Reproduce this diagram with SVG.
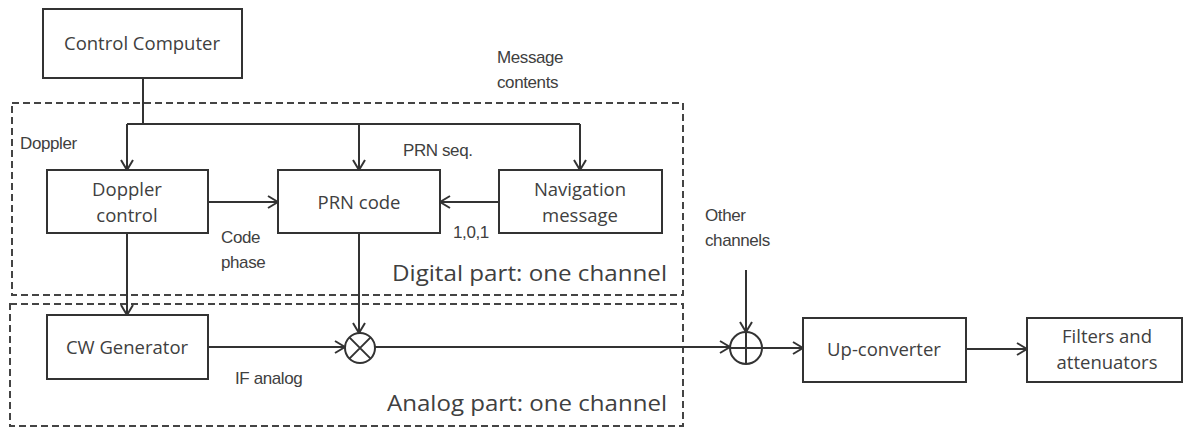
<svg xmlns="http://www.w3.org/2000/svg" width="1184" height="428" viewBox="0 0 1184 428">
<style>
.box{fill:#fff;stroke:#333;stroke-width:2}
.dash{fill:none;stroke:#444;stroke-width:2;stroke-dasharray:7,4}
.ln{fill:none;stroke:#333;stroke-width:2}
.bl{font-family:"Open Sans",sans-serif;font-size:18.5px;fill:#404040;text-anchor:middle}
.sm{font-family:"Liberation Sans",Arial,sans-serif;font-size:17px;fill:#404040;letter-spacing:-0.4px}
.big{font-family:"Open Sans",sans-serif;font-size:22px;fill:#404040}
</style>
<defs>
<marker id="ah" markerUnits="userSpaceOnUse" markerWidth="12" markerHeight="14" viewBox="0 0 12 14" refX="11" refY="7" orient="auto">
<path d="M1,1 L11,7 L1,13" fill="none" stroke="#333" stroke-width="2"/>
</marker>
</defs>
<g id="digital-part">
<rect class="dash" x="12" y="103" width="671" height="192"/>
<text class="big" x="392" y="281" textLength="275" lengthAdjust="spacingAndGlyphs">Digital part: one channel</text>
</g>
<g id="analog-part">
<rect class="dash" x="10" y="304" width="673" height="122"/>
<text class="big" x="387" y="411" textLength="280" lengthAdjust="spacingAndGlyphs">Analog part: one channel</text>
</g>
<g id="control-computer">
<rect class="box" x="43" y="9" width="199" height="69"/>
<text class="bl" x="142" y="50">Control Computer</text>
</g>
<g id="doppler-control">
<rect class="box" x="47" y="170" width="161" height="63"/>
<text class="bl" x="127" y="196">Doppler</text>
<text class="bl" x="127" y="222">control</text>
</g>
<g id="prn-code">
<rect class="box" x="278" y="170" width="162" height="63"/>
<text class="bl" x="359" y="209">PRN code</text>
</g>
<g id="navigation-message">
<rect class="box" x="499" y="170" width="163" height="63"/>
<text class="bl" x="580" y="196">Navigation</text>
<text class="bl" x="580" y="222">message</text>
</g>
<g id="cw-generator">
<rect class="box" x="47" y="315" width="161" height="64"/>
<text class="bl" x="127" y="354">CW Generator</text>
</g>
<g id="multiplier">
<circle class="ln" cx="360" cy="348" r="15"/>
<path class="ln" d="M349.4,337.4 L370.6,358.6 M370.6,337.4 L349.4,358.6"/>
</g>
<g id="summer">
<circle class="ln" cx="746" cy="348" r="16"/>
<path class="ln" d="M730,348 H762 M746,332 V364"/>
</g>
<g id="up-converter">
<rect class="box" x="803" y="318" width="163" height="64"/>
<text class="bl" x="884" y="356">Up-converter</text>
</g>
<g id="filters">
<rect class="box" x="1027" y="318" width="155" height="64"/>
<text class="bl" x="1107" y="343">Filters and</text>
<text class="bl" x="1107" y="369">attenuators</text>
</g>
<g id="connectors">
<path class="ln" d="M143,78 V124"/>
<path class="ln" d="M127,124 H580"/>
<path class="ln" d="M127,124 V170" marker-end="url(#ah)"/>
<path class="ln" d="M359,124 V170" marker-end="url(#ah)"/>
<path class="ln" d="M580,124 V170" marker-end="url(#ah)"/>
<path class="ln" d="M208,202 H278" marker-end="url(#ah)"/>
<path class="ln" d="M499,202 H440" marker-end="url(#ah)"/>
<path class="ln" d="M127,233 V315" marker-end="url(#ah)"/>
<path class="ln" d="M359,233 V333" marker-end="url(#ah)"/>
<path class="ln" d="M208,347 H345" marker-end="url(#ah)"/>
<path class="ln" d="M375,347 H730" marker-end="url(#ah)"/>
<path class="ln" d="M746,270 V332" marker-end="url(#ah)"/>
<path class="ln" d="M762,348 H803" marker-end="url(#ah)"/>
<path class="ln" d="M966,349 H1027" marker-end="url(#ah)"/>
</g>
<g id="labels">
<text class="sm" x="497" y="63">Message</text>
<text class="sm" x="497" y="88">contents</text>
<text class="sm" x="20" y="149">Doppler</text>
<text class="sm" x="403" y="156">PRN seq.</text>
<text class="sm" x="221" y="243">Code</text>
<text class="sm" x="221" y="268">phase</text>
<text class="sm" x="453" y="238">1,0,1</text>
<text class="sm" x="705" y="221">Other</text>
<text class="sm" x="705" y="246">channels</text>
<text class="sm" x="235" y="384">IF analog</text>
</g>
</svg>
